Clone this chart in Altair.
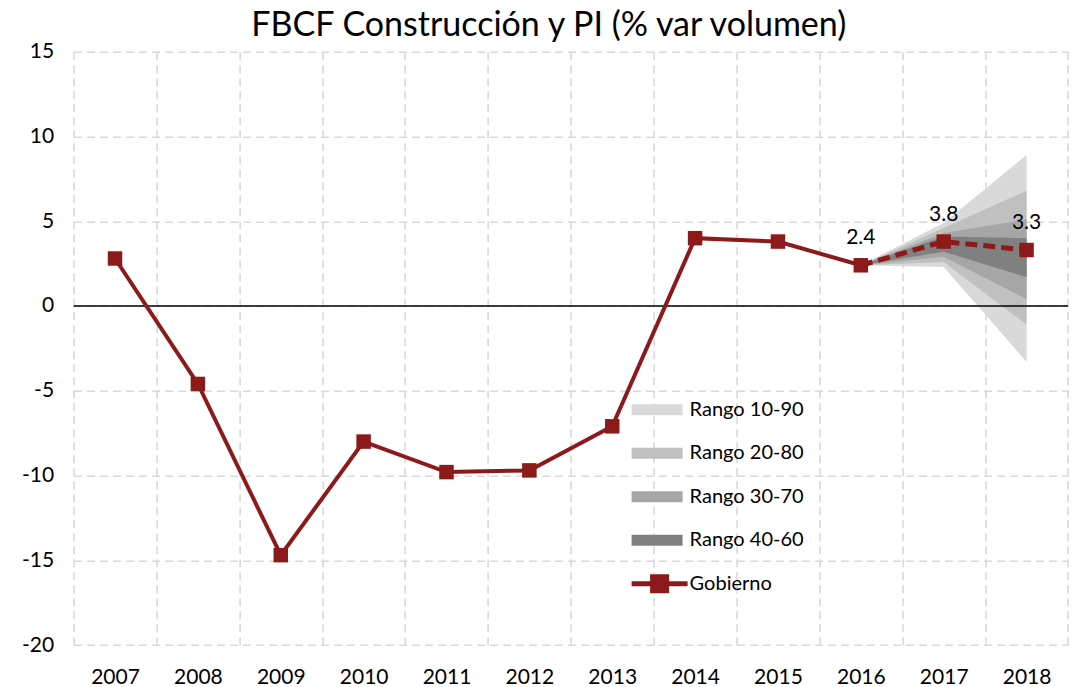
import altair as alt
import pandas as pd

# ---- data ----
years = [2007, 2008, 2009, 2010, 2011, 2012, 2013, 2014, 2015, 2016, 2017, 2018]
gobierno = [2.8, -4.6, -14.7, -8.0, -9.8, -9.7, -7.1, 4.0, 3.8, 2.4, 3.8, 3.3]
n_hist = 10  # 2007-2016 solid, 2016-2018 dashed

fan_years = [2016, 2017, 2018]
r1090_lo = [2.4, 2.3, -3.3]
r1090_hi = [2.4, 4.9, 8.9]
r2080_lo = [2.4, 2.6, -1.1]
r2080_hi = [2.4, 4.6, 6.8]
r3070_lo = [2.4, 2.9, 0.4]
r3070_hi = [2.4, 4.3, 5.1]
r4060_lo = [2.4, 3.2, 1.7]
r4060_hi = [2.4, 4.1, 4.0]

legend_names = ["Rango 10-90", "Rango 20-80", "Rango 30-70", "Rango 40-60", "Gobierno"]
band_colors = ["#D9D9D9", "#C0C0C0", "#A6A6A6", "#808080"]
red = "#8C1A1A"
y_ticks = [-20, -15, -10, -5, 0, 5, 10, 15]

FONT = "Lato"

df = pd.DataFrame({"year": years, "value": gobierno})
df_hist = df.iloc[:n_hist]
df_proj = df.iloc[n_hist - 1:]
df_lab = df.iloc[n_hist - 1:]

x_enc = alt.X(
    "year:O",
    scale=alt.Scale(type="band", domain=years, paddingInner=0, paddingOuter=0),
    bandPosition=0.5,
    axis=alt.Axis(tickBand="extent", grid=True, labelAngle=0, labelPadding=21, title=None),
)
y_scale = alt.Scale(domain=[-20, 15], nice=False, zero=False)
y_axis = alt.Axis(values=y_ticks, labelPadding=20, title=None,
                  labelExpr="toString(datum.value)")

layers = []

fans = [
    (r1090_lo, r1090_hi, band_colors[0]),
    (r2080_lo, r2080_hi, band_colors[1]),
    (r3070_lo, r3070_hi, band_colors[2]),
    (r4060_lo, r4060_hi, band_colors[3]),
]
for lo, hi, col in fans:
    fd = pd.DataFrame({"year": fan_years, "lo": lo, "hi": hi})
    layers.append(
        alt.Chart(fd).mark_area(color=col, opacity=1).encode(
            x=x_enc,
            y=alt.Y("lo:Q", scale=y_scale, axis=y_axis),
            y2="hi:Q",
        )
    )

zero_df = pd.DataFrame({"z": [0]})
layers.append(
    alt.Chart(zero_df).mark_rule(color="black", strokeWidth=1.6).encode(
        y=alt.Y("z:Q", scale=y_scale, axis=y_axis)
    )
)

layers.append(
    alt.Chart(df_hist).mark_line(color=red, strokeWidth=4).encode(
        x=x_enc, y=alt.Y("value:Q", scale=y_scale, axis=y_axis)
    )
)
layers.append(
    alt.Chart(df_proj).mark_line(color=red, strokeWidth=5, strokeDash=[12, 6]).encode(
        x=x_enc, y=alt.Y("value:Q", scale=y_scale, axis=y_axis)
    )
)
layers.append(
    alt.Chart(df).mark_point(shape="square", filled=True, size=210, opacity=1, color=red).encode(
        x=x_enc, y=alt.Y("value:Q", scale=y_scale, axis=y_axis)
    )
)
layers.append(
    alt.Chart(df_lab).mark_text(dy=-27, font=FONT, fontSize=21, color="black").encode(
        x=x_enc,
        y=alt.Y("value:Q", scale=y_scale, axis=y_axis),
        text=alt.Text("value:Q", format=".1f"),
    )
)

rect_path = "M-1,-0.55H4.1V0.55H-1Z"
gob_path = "M-1,-0.25H0.85V-0.95H2.75V-0.25H4.6V0.25H2.75V0.95H0.85V0.25H-1Z"
leg = dict(
    orient="none", legendX=558, legendY=348, title=None,
    labelFont=FONT, labelFontSize=20, labelColor="black",
    symbolSize=400, symbolStrokeWidth=0, labelOffset=38,
    rowPadding=23.5, symbolOpacity=1,
)
legend_layer = alt.Chart(alt.Data(values=[])).mark_point(filled=True, opacity=1).encode(
    color=alt.Color(
        "serie:N",
        scale=alt.Scale(domain=legend_names, range=band_colors + [red]),
        legend=alt.Legend(**leg),
    ),
    shape=alt.Shape(
        "serie:N",
        scale=alt.Scale(domain=legend_names, range=[rect_path] * 4 + [gob_path]),
        legend=alt.Legend(**leg),
    ),
)
layers.append(legend_layer)

chart = alt.layer(*layers).properties(
    width=994.4,
    height=593.3,
    title=alt.TitleParams(
        "FBCF Construcción y PI (% var volumen)",
        font=FONT, fontSize=34, fontWeight="normal", color="black",
        anchor="middle", dx=-22, offset=-2,
    ),
    padding={"left": 73.6, "top": 51.7, "right": 13, "bottom": 42},
    autosize=alt.AutoSizeParams(type="none"),
    background="white",
).configure_view(stroke=None).configure_axis(
    gridColor="#D9D9D9", gridDash=[8, 5], gridWidth=1.6,
    domain=False, ticks=False,
    labelFont=FONT, labelFontSize=21, labelColor="black",
)

chart.save("out.html", embed_options={"renderer": "svg", "actions": False})
